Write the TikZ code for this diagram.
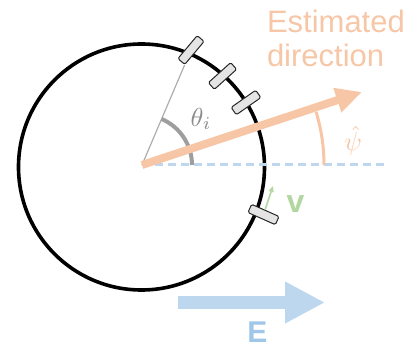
\documentclass[tikz,border=0pt]{standalone}
\usepackage{fontspec}
\setmainfont{Liberation Sans}
\usetikzlibrary{arrows.meta}
\definecolor{peach}{RGB}{247,198,166}
\definecolor{dashblue}{RGB}{190,215,238}
\definecolor{earrow}{RGB}{189,215,238}
\definecolor{etext}{RGB}{160,198,232}
\definecolor{vgreen}{RGB}{178,215,160}
\definecolor{sensfill}{RGB}{228,228,228}
\tikzset{
  sensor/.style={draw=black!85, fill=sensfill, line width=1pt, rounded corners=1.5pt,
    minimum width=30pt, minimum height=9pt, inner sep=0pt, rectangle},
  lbl/.style={inner sep=0pt, outer sep=0pt},
}
\begin{document}
\begin{tikzpicture}[x=1pt,y=1pt]
\useasboundingbox (-142,-182) rectangle (272,165);
\coordinate (O) at (0,0);
% circle
\node[circle, draw=black, line width=3.6pt, minimum size=246pt, inner sep=0pt] (ring) at (-0.5,-2) {};
% dashed reference
\coordinate (dend) at (242,0);
\draw[dashblue, line width=3pt, dash pattern=on 8pt off 5pt] (O) -- (dend);
% sensors
\node[sensor, rotate=50] (s1) at (49,115) {};
\node[sensor, rotate=42] (s2) at (80.5,89) {};
\node[sensor, rotate=35] (s3) at (104,62.5) {};
\node[sensor, rotate=-24] (s4) at (121.5,-49.5) {};
% gray line and theta arc
\draw[black!32, line width=1.2pt] (O) -- (s1);
\draw[black!38, line width=4pt] (50,0) arc[start angle=0, end angle=67, radius=50];
\node[lbl, text=black!45] (theta) at (59,46) {\scalebox{2.6}{$\theta_i$}};
% estimated direction
\coordinate (tip) at (220,73);
\draw[peach, line width=8pt, -{Triangle[length=26pt,width=24pt]}] (O) -- (tip);
\draw[peach, line width=3pt] (182,0) arc[start angle=0, end angle=17, radius=182];
\node[lbl, text=peach] (psi) at (211,24) {\scalebox{2.6}{$\hat{\psi}$}};
\node[lbl, text=peach, anchor=base west] (est1) at (125,132) {\fontsize{31}{34}\selectfont Estimated};
\node[lbl, text=peach, anchor=base west] (est2) at (125,98) {\fontsize{31}{34}\selectfont direction};
% velocity
\coordinate (vtip) at (131,-21);
\draw[vgreen, line width=1.6pt, -{Triangle[length=6pt,width=5pt]}] (s4) -- (vtip);
\node[lbl, text=vgreen] (v) at (153.5,-39) {\fontsize{32}{34}\selectfont\bfseries v};
% E field
\coordinate (e0) at (36,-137.5);
\coordinate (e1) at (183,-137.5);
\draw[earrow, line width=13pt, -{Triangle[length=40pt,width=39pt]}] (e0) -- (e1);
\node[lbl, text=etext, anchor=base] (E) at (115.5,-177) {\fontsize{30}{34}\selectfont\bfseries E};
\end{tikzpicture}
\end{document}
